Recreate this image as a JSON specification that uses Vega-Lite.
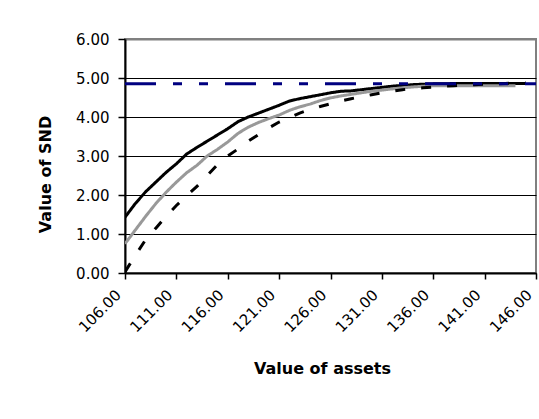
{
  "$schema": "https://vega.github.io/schema/vega-lite/v6.json",
  "width": 411,
  "height": 234,
  "autosize": {"type": "none"},
  "padding": {"left": 125, "top": 39, "right": 3, "bottom": 146},
  "background": "white",
  "config": {
    "view": {"stroke": "#808080", "strokeWidth": 2},
    "axis": {
      "labelFont": "DejaVu Sans",
      "labelFontSize": 15,
      "labelColor": "black",
      "titleFont": "DejaVu Sans",
      "titleFontSize": 16,
      "titleFontWeight": "bold",
      "titleColor": "black",
      "domainColor": "black",
      "domainWidth": 2,
      "tickColor": "black",
      "tickWidth": 1.5
    }
  },
  "data": {
    "values": [
      {"x": 106, "v": 1.43, "s": "A"}, {"x": 107, "v": 1.78, "s": "A"}, {"x": 108, "v": 2.08, "s": "A"}, {"x": 109, "v": 2.33, "s": "A"}, {"x": 110, "v": 2.58, "s": "A"},
      {"x": 111, "v": 2.80, "s": "A"}, {"x": 112, "v": 3.05, "s": "A"}, {"x": 113, "v": 3.22, "s": "A"}, {"x": 114, "v": 3.38, "s": "A"}, {"x": 115, "v": 3.54, "s": "A"},
      {"x": 116, "v": 3.70, "s": "A"}, {"x": 117, "v": 3.88, "s": "A"}, {"x": 118, "v": 4.00, "s": "A"}, {"x": 119, "v": 4.10, "s": "A"}, {"x": 120, "v": 4.20, "s": "A"},
      {"x": 121, "v": 4.30, "s": "A"}, {"x": 122, "v": 4.41, "s": "A"}, {"x": 123, "v": 4.47, "s": "A"}, {"x": 124, "v": 4.52, "s": "A"}, {"x": 125, "v": 4.57, "s": "A"},
      {"x": 126, "v": 4.62, "s": "A"}, {"x": 127, "v": 4.66, "s": "A"}, {"x": 128, "v": 4.67, "s": "A"}, {"x": 129, "v": 4.70, "s": "A"}, {"x": 130, "v": 4.73, "s": "A"},
      {"x": 131, "v": 4.76, "s": "A"}, {"x": 132, "v": 4.79, "s": "A"}, {"x": 133, "v": 4.81, "s": "A"}, {"x": 134, "v": 4.83, "s": "A"}, {"x": 135, "v": 4.84, "s": "A"},
      {"x": 136, "v": 4.85, "s": "A"}, {"x": 137, "v": 4.85, "s": "A"}, {"x": 138, "v": 4.86, "s": "A"}, {"x": 139, "v": 4.86, "s": "A"}, {"x": 140, "v": 4.86, "s": "A"},
      {"x": 141, "v": 4.86, "s": "A"}, {"x": 142, "v": 4.86, "s": "A"}, {"x": 143, "v": 4.86, "s": "A"}, {"x": 144, "v": 4.86, "s": "A"}, {"x": 145, "v": 4.86, "s": "A"},
      {"x": 106, "v": 0.75, "s": "B"}, {"x": 107, "v": 1.10, "s": "B"}, {"x": 108, "v": 1.45, "s": "B"}, {"x": 109, "v": 1.78, "s": "B"}, {"x": 110, "v": 2.07, "s": "B"},
      {"x": 111, "v": 2.33, "s": "B"}, {"x": 112, "v": 2.57, "s": "B"}, {"x": 113, "v": 2.76, "s": "B"}, {"x": 114, "v": 3.00, "s": "B"}, {"x": 115, "v": 3.17, "s": "B"},
      {"x": 116, "v": 3.36, "s": "B"}, {"x": 117, "v": 3.58, "s": "B"}, {"x": 118, "v": 3.74, "s": "B"}, {"x": 119, "v": 3.86, "s": "B"}, {"x": 120, "v": 3.96, "s": "B"},
      {"x": 121, "v": 4.05, "s": "B"}, {"x": 122, "v": 4.17, "s": "B"}, {"x": 123, "v": 4.26, "s": "B"}, {"x": 124, "v": 4.33, "s": "B"}, {"x": 125, "v": 4.42, "s": "B"},
      {"x": 126, "v": 4.49, "s": "B"}, {"x": 127, "v": 4.54, "s": "B"}, {"x": 128, "v": 4.58, "s": "B"}, {"x": 129, "v": 4.62, "s": "B"}, {"x": 130, "v": 4.66, "s": "B"},
      {"x": 131, "v": 4.69, "s": "B"}, {"x": 132, "v": 4.72, "s": "B"}, {"x": 133, "v": 4.75, "s": "B"}, {"x": 134, "v": 4.77, "s": "B"}, {"x": 135, "v": 4.79, "s": "B"},
      {"x": 136, "v": 4.80, "s": "B"}, {"x": 137, "v": 4.80, "s": "B"}, {"x": 138, "v": 4.80, "s": "B"}, {"x": 139, "v": 4.80, "s": "B"}, {"x": 140, "v": 4.80, "s": "B"},
      {"x": 141, "v": 4.80, "s": "B"}, {"x": 142, "v": 4.80, "s": "B"}, {"x": 143, "v": 4.80, "s": "B"}, {"x": 144, "v": 4.80, "s": "B"},
      {"x": 106, "v": 0.03, "s": "C"}, {"x": 107, "v": 0.45, "s": "C"}, {"x": 108, "v": 0.85, "s": "C"}, {"x": 109, "v": 1.15, "s": "C"}, {"x": 110, "v": 1.45, "s": "C"},
      {"x": 111, "v": 1.73, "s": "C"}, {"x": 112, "v": 1.98, "s": "C"}, {"x": 113, "v": 2.22, "s": "C"}, {"x": 114, "v": 2.50, "s": "C"}, {"x": 115, "v": 2.78, "s": "C"},
      {"x": 116, "v": 3.00, "s": "C"}, {"x": 117, "v": 3.18, "s": "C"}, {"x": 118, "v": 3.38, "s": "C"}, {"x": 119, "v": 3.55, "s": "C"}, {"x": 120, "v": 3.72, "s": "C"},
      {"x": 121, "v": 3.87, "s": "C"}, {"x": 122, "v": 3.98, "s": "C"}, {"x": 123, "v": 4.10, "s": "C"}, {"x": 124, "v": 4.19, "s": "C"}, {"x": 125, "v": 4.27, "s": "C"},
      {"x": 126, "v": 4.34, "s": "C"}, {"x": 127, "v": 4.41, "s": "C"}, {"x": 128, "v": 4.47, "s": "C"}, {"x": 129, "v": 4.52, "s": "C"}, {"x": 130, "v": 4.57, "s": "C"},
      {"x": 131, "v": 4.62, "s": "C"}, {"x": 132, "v": 4.66, "s": "C"}, {"x": 133, "v": 4.70, "s": "C"}, {"x": 134, "v": 4.73, "s": "C"}, {"x": 135, "v": 4.75, "s": "C"},
      {"x": 136, "v": 4.77, "s": "C"}, {"x": 137, "v": 4.79, "s": "C"}, {"x": 138, "v": 4.80, "s": "C"}, {"x": 139, "v": 4.82, "s": "C"}, {"x": 140, "v": 4.83, "s": "C"},
      {"x": 141, "v": 4.84, "s": "C"}, {"x": 142, "v": 4.85, "s": "C"}, {"x": 143, "v": 4.86, "s": "C"}, {"x": 144, "v": 4.87, "s": "C"}, {"x": 145, "v": 4.87, "s": "C"},
      {"x": 106, "v": 4.85, "s": "D"}, {"x": 146, "v": 4.85, "s": "D"}
    ]
  },
  "mark": {"type": "line", "clip": true},
  "encoding": {
    "x": {
      "field": "x", "type": "quantitative",
      "scale": {"domain": [106, 146], "nice": false, "zero": false},
      "axis": {
        "values": [106, 111, 116, 121, 126, 131, 136, 141, 146],
        "format": ".2f",
        "labelAngle": -45,
        "labelAlign": "right",
        "labelBaseline": "middle",
        "labelPadding": 13,
        "labelOffset": -7,
        "tickSize": 6,
        "grid": false,
        "title": "Value of assets",
        "titlePadding": 26,
        "titleX": 197
      }
    },
    "y": {
      "field": "v", "type": "quantitative",
      "scale": {"domain": [0, 6], "nice": false},
      "axis": {
        "values": [0, 1, 2, 3, 4, 5, 6],
        "format": ".2f",
        "tickSize": 7,
        "labelPadding": 9,
        "grid": true,
        "gridColor": {"condition": {"test": "datum.value == 6", "value": "#808080"}, "value": "black"},
        "gridWidth": {"condition": {"test": "datum.value == 6", "value": 2}, "value": 1},
        "title": "Value of SND",
        "titlePadding": 22,
        "titleY": 135
      }
    },
    "color": {
      "field": "s", "type": "nominal", "legend": null,
      "scale": {"domain": ["A", "B", "C", "D"], "range": ["#000000", "#999999", "#000000", "#000080"]}
    },
    "strokeDash": {
      "field": "s", "type": "nominal", "legend": null,
      "scale": {"domain": ["A", "B", "C", "D"], "range": [[1, 0], [1, 0], [10, 16], [31, 17, 9, 17, 9, 17]]}
    },
    "strokeWidth": {
      "field": "s", "type": "nominal", "legend": null,
      "scale": {"domain": ["A", "B", "C", "D"], "range": [3, 3, 4, 4.5]}
    }
  }
}
